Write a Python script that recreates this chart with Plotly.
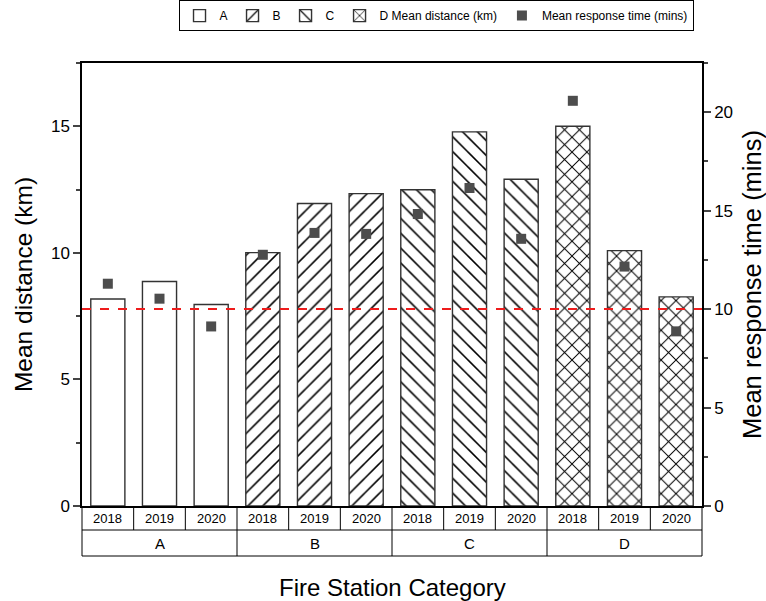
import plotly.graph_objects as go

# Fire station categories and survey years
groups = ["A", "B", "C", "D"]
years = ["2018", "2019", "2020"]

# Mean distance (km) per category and year
dist_A = [8.18, 8.87, 7.96]
dist_B = [10.01, 11.95, 12.34]
dist_C = [12.49, 14.78, 12.91]
dist_D = [15.0, 10.09, 8.26]

# Mean response time (mins) per category and year
resp_time = [11.29, 10.53, 9.12,
             12.76, 13.87, 13.82,
             14.83, 16.15, 13.57,
             20.58, 12.16, 8.87]

# Response-time reference level (mins)
target_time = 10

legend_names = ["A", "B", "C", "D Mean distance (km)"]
patterns = ["", "/", "\\", "x"]
solidities = [0.15, 0.15, 0.15, 0.18]
FONT = "Liberation Sans, Arial, sans-serif"

fig = go.Figure()

n_years = len(years)
for gi, (g, vals) in enumerate(zip(groups, [dist_A, dist_B, dist_C, dist_D])):
    xs = [gi * n_years + k for k in range(n_years)]
    fig.add_trace(go.Bar(
        x=xs, y=vals, name=legend_names[gi], width=0.66,
        marker=dict(color="white",
                    line=dict(color="#333333", width=1.4),
                    pattern=dict(shape=patterns[gi], fgcolor="black", fgopacity=1,
                                 bgcolor="white", size=10.5,
                                 solidity=solidities[gi])),
        yaxis="y",
    ))

fig.add_trace(go.Scatter(
    x=list(range(len(resp_time))), y=resp_time, mode="markers",
    name="Mean response time (mins)",
    marker=dict(symbol="square", size=10, color="#4d4d4d"),
    yaxis="y2",
))

# dashed reference line at the target response time
fig.add_shape(type="line", xref="x domain", x0=0, x1=1, yref="y2",
              y0=target_time, y1=target_time,
              line=dict(color="#ee1c1c", width=2, dash="dash"))

# category table below the x axis
n = len(resp_time)
PH = 443.0  # plot height in px
def py(px):
    return -px / PH

row1 = py(24)
row2 = py(50)
line_style = dict(color="black", width=1)
for i in range(n + 1):
    bottom = row2 if i % n_years == 0 else row1
    fig.add_shape(type="line", xref="x domain", yref="paper",
                  x0=i / n, x1=i / n, y0=0, y1=bottom, line=line_style)
fig.add_shape(type="line", xref="x domain", yref="paper",
              x0=0, x1=1, y0=row1, y1=row1, line=line_style)
fig.add_shape(type="line", xref="x domain", yref="paper",
              x0=0, x1=1, y0=row2, y1=row2, line=line_style)

for gi, g in enumerate(groups):
    for k, yr in enumerate(years):
        fig.add_annotation(x=gi * n_years + k, xref="x", y=(row1) / 2, yref="paper",
                           text=yr, showarrow=False, yanchor="middle",
                           font=dict(family=FONT, size=13, color="black"))
    fig.add_annotation(x=gi * n_years + 1, xref="x", y=(row1 + row2) / 2, yref="paper",
                       text=g, showarrow=False, yanchor="middle",
                       font=dict(family=FONT, size=15, color="black"))

fig.add_annotation(x=0.5, xref="x domain", y=py(81), yref="paper",
                   text="Fire Station Category", showarrow=False, yanchor="middle",
                   font=dict(family=FONT, size=24, color="black"))

fig.update_layout(
    width=766, height=601,
    margin=dict(l=82, r=64, t=63, b=95, autoexpand=False),
    paper_bgcolor="white", plot_bgcolor="white",
    font=dict(family=FONT, color="black"),
    barmode="overlay",
    showlegend=True,
    legend=dict(orientation="h", x=0.571, xanchor="center", y=1.142, yanchor="top",
                bordercolor="black", borderwidth=1, bgcolor="white",
                font=dict(family=FONT, size=12), itemwidth=30,
                tracegroupgap=0),
    xaxis=dict(range=[-0.5, n - 0.5], showticklabels=False, ticks="",
               showgrid=False, zeroline=False, showline=True,
               linecolor="black", linewidth=1.5, mirror=True),
    yaxis=dict(title=dict(text="Mean distance (km)", font=dict(size=24.5), standoff=11),
               range=[0, 17.5], tickvals=[0, 5, 10, 15], ticks="outside",
               ticklen=7, tickwidth=1.5, tickfont=dict(size=17),
               minor=dict(ticks="outside", ticklen=4, tickwidth=1.5, dtick=2.5,
                          showgrid=False),
               showgrid=False, zeroline=False, showline=True,
               linecolor="black", linewidth=1.5),
    yaxis2=dict(title=dict(text="Mean response time (mins)", font=dict(size=25.5), standoff=19),
                overlaying="y", side="right",
                range=[0, 22.5], tickvals=[0, 5, 10, 15, 20], ticks="outside",
                ticklen=7, tickwidth=1.5, tickfont=dict(size=17),
                minor=dict(ticks="outside", ticklen=4, tickwidth=1.5, dtick=2.5,
                           showgrid=False),
                showgrid=False, zeroline=False, showline=True,
                linecolor="black", linewidth=1.5),
)

fig.write_html("out.html")
